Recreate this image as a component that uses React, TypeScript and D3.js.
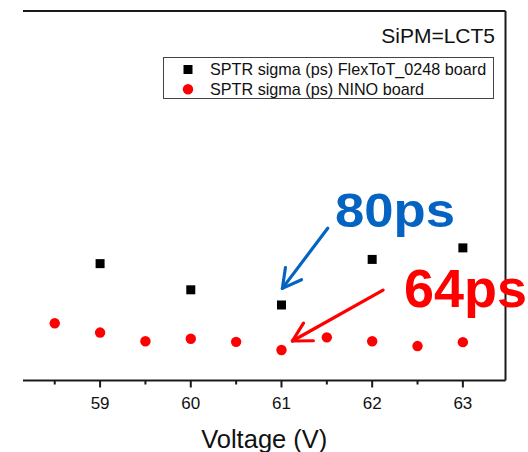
import React from "react";
import * as d3 from "d3";

// Bias voltage (V) and SPTR sigma (ps) per readout board
const flexVoltages = [59, 60, 61, 62, 63];
const flexSigma = [94.7, 85.4, 80, 96.2, 100.3];

const ninoVoltages = [58.5, 59, 59.5, 60, 60.5, 61, 61.5, 62, 62.5, 63];
const ninoSigma = [73.5, 70.2, 67.1, 68.0, 66.9, 64, 68.5, 67.1, 65.4, 66.8];

const xTicks = [59, 60, 61, 62, 63];
const xMinorTicks = [58.5, 59.5, 60.5, 61.5, 62.5];

const legendLabels = [
  "SPTR sigma (ps) FlexToT_0248 board",
  "SPTR sigma (ps) NINO board",
];

const W = 528;
const H = 452;
const FONT = "'Liberation Sans', Arial, sans-serif";
const BLUE = "#0563C1";
const RED = "#FF0000";

const x = d3.scaleLinear().domain([58.15, 63.47]).range([23, 505.5]);
const y = d3.scaleLinear().domain([53.16, 184.5]).range([380.5, 11]);

type Pt = { x: number; y: number };

function Arrow({ from, to, color }: { from: Pt; to: Pt; color: string }) {
  const x1 = x(from.x), y1 = y(from.y), x2 = x(to.x), y2 = y(to.y);
  const ang = Math.atan2(y1 - y2, x1 - x2);
  const len = 21;
  const spread = 0.5;
  const h1 = [x2 + len * Math.cos(ang + spread), y2 + len * Math.sin(ang + spread)];
  const h2 = [x2 + len * Math.cos(ang - spread), y2 + len * Math.sin(ang - spread)];
  return (
    <g stroke={color} strokeWidth={3.2} fill="none" strokeLinecap="round" strokeLinejoin="round">
      <line x1={x1} y1={y1} x2={x2} y2={y2} />
      <polyline points={`${h1[0]},${h1[1]} ${x2},${y2} ${h2[0]},${h2[1]}`} />
    </g>
  );
}

export default function App() {
  const axisY = y.range()[0];
  const [x0, x1] = x.range();
  const top = y.range()[1];
  return (
    <svg
      width={W}
      height={H}
      style={{ position: "absolute", left: 0, top: 0, background: "#fff" }}
      fontFamily={FONT}
    >
      {/* frame: top edge, right edge, bottom axis */}
      <line x1={x0} y1={top} x2={x1} y2={top} stroke="#1a1a1a" strokeWidth={2} />
      <line x1={x1} y1={top} x2={x1} y2={axisY} stroke="#1a1a1a" strokeWidth={2} />
      <line x1={x0} y1={axisY} x2={x1} y2={axisY} stroke="#1a1a1a" strokeWidth={2} />

      {xTicks.map((t) => (
        <g key={t}>
          <line x1={x(t)} y1={axisY} x2={x(t)} y2={axisY + 7} stroke="#1a1a1a" strokeWidth={2} />
          <text x={x(t)} y={axisY + 28} fontSize={17} textAnchor="middle" fill="#111">
            {t}
          </text>
        </g>
      ))}
      {xMinorTicks.map((t) => (
        <line key={t} x1={x(t)} y1={axisY} x2={x(t)} y2={axisY + 4} stroke="#1a1a1a" strokeWidth={2} />
      ))}
      <text x={(x0 + x1) / 2} y={448} fontSize={25.5} textAnchor="middle" fill="#111">
        Voltage (V)
      </text>

      {/* data */}
      {flexVoltages.map((v, i) => (
        <rect key={"f" + i} x={x(v) - 4.5} y={y(flexSigma[i]) - 4.5} width={9} height={9} fill="#000" />
      ))}
      {ninoVoltages.map((v, i) => (
        <circle key={"n" + i} cx={x(v)} cy={y(ninoSigma[i])} r={5.2} fill={RED} />
      ))}

      {/* label */}
      <text x={495} y={42.5} fontSize={21} textAnchor="end" fill="#111">
        SiPM=LCT5
      </text>

      {/* legend */}
      <rect x={163.5} y={57.5} width={330} height={41} fill="#fff" stroke="#444" strokeWidth={1} />
      <rect x={183.5} y={65} width={9} height={9} fill="#000" />
      <circle cx={188} cy={89.3} r={5.2} fill={RED} />
      <text x={210} y={75} fontSize={16.2} fill="#111">{legendLabels[0]}</text>
      <text x={210} y={95} fontSize={16.2} fill="#111">{legendLabels[1]}</text>

      {/* annotations for the 61 V points */}
      <Arrow from={{ x: 61.51, y: 107.3 }} to={{ x: 61.01, y: 85.9 }} color={BLUE} />
      <Arrow from={{ x: 62.12, y: 85.3 }} to={{ x: 61.12, y: 67.2 }} color={RED} />
      <text
        x={x(61.59)}
        y={y(107.8)}
        fontSize={49}
        fontWeight="bold"
        fill={BLUE}
        textLength={120}
        lengthAdjust="spacingAndGlyphs"
      >
        {`${flexSigma[2]}ps`}
      </text>
      <text
        x={x(62.35)}
        y={y(79.4)}
        fontSize={54}
        fontWeight="bold"
        fill={RED}
        textLength={123}
        lengthAdjust="spacingAndGlyphs"
      >
        {`${ninoSigma[5]}ps`}
      </text>
    </svg>
  );
}
